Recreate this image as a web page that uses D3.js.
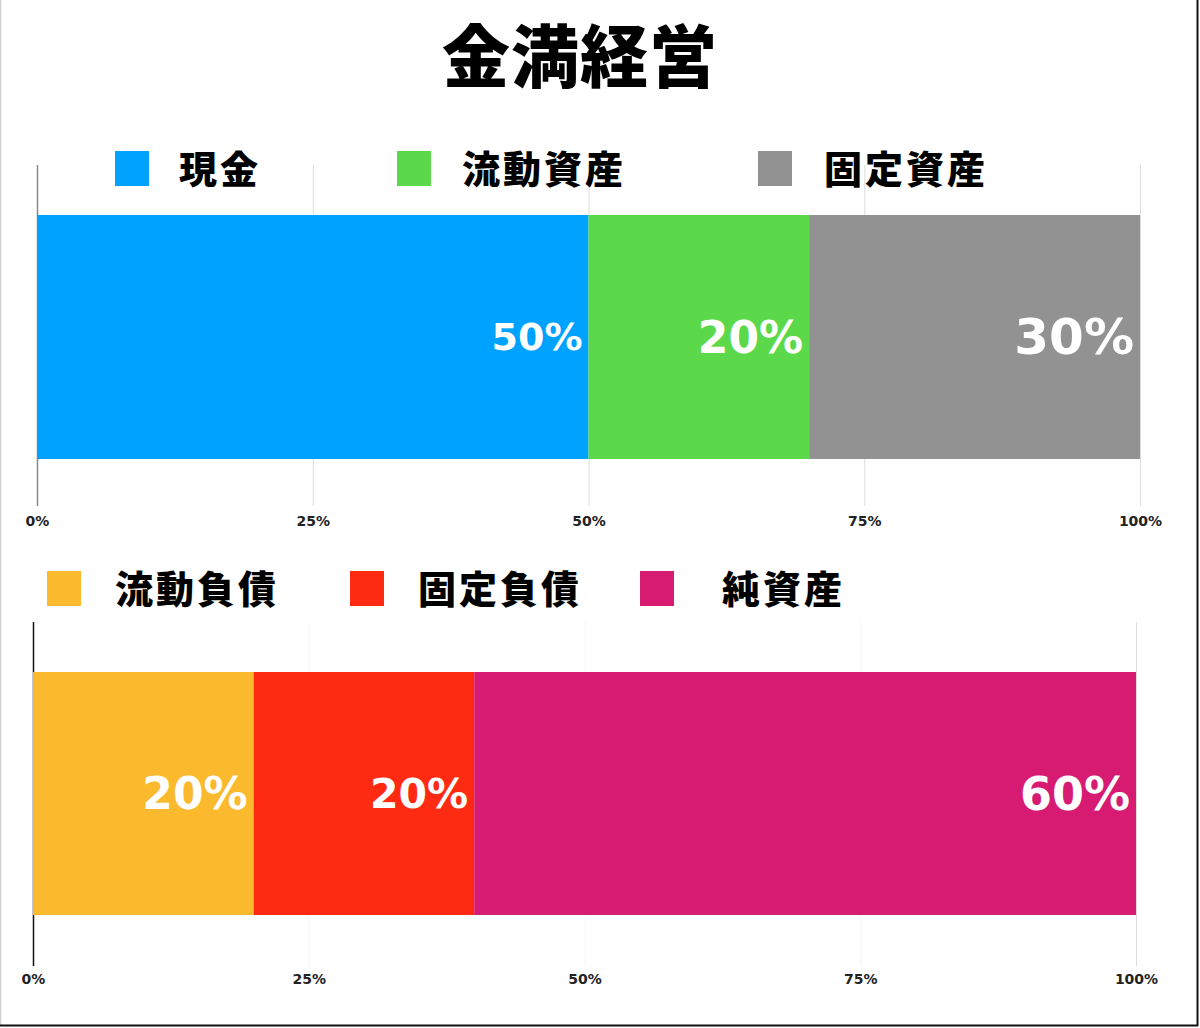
<!DOCTYPE html>
<html>
<head>
<meta charset="utf-8">
<script src="https://cdn.jsdelivr.net/npm/d3@7"></script>
<style>
  html, body { margin: 0; padding: 0; background: #fff; }
  svg { display: block; }
  .jp { font-family: "Noto Sans CJK JP", sans-serif; font-weight: 900; }
  .num { font-family: "DejaVu Sans", sans-serif; font-weight: bold; }
</style>
</head>
<body>
<svg id="chart" width="1200" height="1028"></svg>
<script>
const title = '金満経営'

const assetLabels = ['現金', '流動資産', '固定資産']
const assetValues = [50, 20, 30]
const assetColors = ['#00a2ff', '#5bd94a', '#929292']

const liabLabels = ['流動負債', '固定負債', '純資産']
const liabValues = [20, 20, 60]
const liabColors = ['#fbb92e', '#ff2a12', '#d81b72']

const tickValues = [0, 25, 50, 75, 100]

let svg = d3.select('#chart')

// frame
svg.append('line').attr('x1', 0.5).attr('x2', 0.5).attr('y1', 0).attr('y2', 1026)
  .attr('stroke', '#cfcfcf').attr('stroke-width', 1.5)
svg.append('line').attr('x1', 1197.5).attr('x2', 1197.5).attr('y1', 0).attr('y2', 1026)
  .attr('stroke', '#111').attr('stroke-width', 2)
svg.append('line').attr('x1', 0).attr('x2', 1198).attr('y1', 1025.5).attr('y2', 1025.5)
  .attr('stroke', '#111').attr('stroke-width', 2)

svg.append('text')
  .classed('jp', true)
  .attr('x', 580)
  .attr('y', 52)
  .attr('text-anchor', 'middle')
  .attr('dominant-baseline', 'central')
  .attr('font-size', 68)
  .attr('letter-spacing', 1)
  .attr('fill', '#000')
  .text(title)

function drawChart(opt) {
  let g = svg.append('g')

  let x = d3.scaleLinear().domain([0, 100]).range([opt.x0, opt.x1])

  let y = d3.scaleBand().domain(['row']).range([opt.barTop, opt.barBottom])

  // gridlines
  g.selectAll('.grid')
    .data(tickValues)
    .enter()
    .append('line')
    .attr('x1', d => x(d) + 0.5)
    .attr('x2', d => x(d) + 0.5)
    .attr('y1', opt.gridTop)
    .attr('y2', opt.gridBottom)
    .attr('stroke', d => d === 0 ? opt.zeroColor : (d === 100 ? opt.lastGridColor : opt.gridColor))
    .attr('stroke-width', d => d === 0 ? 1.5 : 1)

  // stacked segments
  let stack = []
  let acc = 0
  opt.values.forEach((v, i) => {
    stack.push({ start: acc, end: acc + v, value: v, color: opt.colors[i], size: opt.labelSizes[i] })
    acc += v
  })

  g.selectAll('.seg')
    .data(stack)
    .enter()
    .append('rect')
    .attr('x', d => x(d.start))
    .attr('width', d => x(d.end) - x(d.start))
    .attr('y', y('row'))
    .attr('height', y.bandwidth())
    .attr('fill', d => d.color)

  g.selectAll('.val')
    .data(stack)
    .enter()
    .append('text')
    .classed('num', true)
    .attr('x', d => x(d.end) - 6)
    .attr('y', y('row') + y.bandwidth() / 2)
    .attr('text-anchor', 'end')
    .attr('dominant-baseline', 'central')
    .attr('font-size', d => d.size)
    .attr('fill', '#fff')
    .text(d => d.value + '%')

  // axis labels
  let axis = d3.axisBottom(x)
    .tickValues(tickValues)
    .tickFormat(d => d + '%')
    .tickSize(0)
    .tickPadding(0)

  let ax = g.append('g')
    .attr('transform', `translate(0,${opt.labelY})`)
    .call(axis)
  ax.select('.domain').remove()
  ax.selectAll('text')
    .attr('class', 'num')
    .attr('dy', null)
    .attr('dominant-baseline', 'central')
    .attr('font-size', 14)
    .attr('fill', '#222')

  // legend
  let leg = g.selectAll('.leg')
    .data(opt.labels)
    .enter()
    .append('g')
    .attr('transform', (d, i) => `translate(${opt.legendX[i]},${opt.legendY})`)

  leg.append('rect')
    .attr('x', 0)
    .attr('y', -17)
    .attr('width', 34)
    .attr('height', 35)
    .attr('fill', (d, i) => opt.colors[i])

  leg.append('text')
    .classed('jp', true)
    .attr('x', (d, i) => opt.legendGap[i])
    .attr('y', -2)
    .attr('dominant-baseline', 'central')
    .attr('font-size', 38)
    .attr('letter-spacing', 3)
    .attr('fill', '#000')
    .text(d => d)
}

drawChart({
  labels: assetLabels,
  values: assetValues,
  colors: assetColors,
  labelSizes: [38, 44, 50],
  x0: 37, x1: 1140,
  barTop: 215, barBottom: 459,
  gridTop: 165, gridBottom: 506,
  labelY: 521,
  zeroColor: '#8a8a8a', gridColor: '#dcdcdc', lastGridColor: '#dcdcdc',
  legendX: [115, 397, 758],
  legendY: 168,
  legendGap: [64, 65, 66]
})

drawChart({
  labels: liabLabels,
  values: liabValues,
  colors: liabColors,
  labelSizes: [44, 41, 46],
  x0: 33, x1: 1136,
  barTop: 672, barBottom: 915,
  gridTop: 622, gridBottom: 966,
  labelY: 979,
  zeroColor: '#111', gridColor: '#f6f6f6', lastGridColor: '#dcdcdc',
  legendX: [47, 350, 640],
  legendY: 588,
  legendGap: [68, 68, 82]
})
</script>
</body>
</html>
